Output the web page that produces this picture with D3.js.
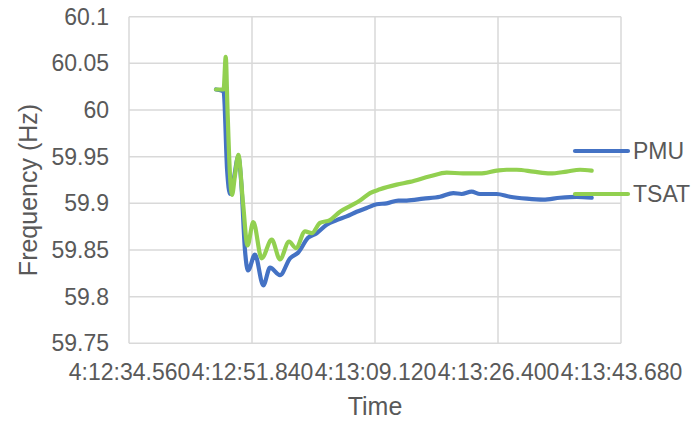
<!DOCTYPE html>
<html>
<head>
<meta charset="utf-8">
<script src="https://cdn.jsdelivr.net/npm/d3@7"></script>
<style>
  html, body { margin: 0; padding: 0; background: #fff; }
  svg { display: block; }
  text { font-family: "Liberation Sans", Arial, sans-serif; fill: #595959; }
</style>
</head>
<body>
<svg id="chart" width="697" height="421"></svg>
<script>
// Time in seconds after 4:12:00, frequency in Hz
const pmuTime = [46.78, 47.85, 48.35, 48.75, 49.25, 49.92, 50.35, 50.85, 51.28, 52.26, 53.43,
  54.37, 55.77, 57.18, 58.30, 59.71, 60.93, 62.33, 63.74, 65.14, 66.55, 67.95, 69.36,
  70.76, 72.39, 73.57, 75.91, 78.25, 80.12, 81.30, 82.70, 83.87, 86.22, 88.09, 90.43,
  92.76, 95.11, 97.46, 99.56];
const pmuFreq = [60.022, 60.020, 59.935, 59.910, 59.925, 59.950, 59.920, 59.850, 59.828, 59.845, 59.812,
  59.831, 59.823, 59.841, 59.847, 59.863, 59.868, 59.877, 59.882, 59.886, 59.891, 59.895, 59.899,
  59.900, 59.903, 59.903, 59.905, 59.907, 59.911, 59.910, 59.9125, 59.910, 59.910, 59.907, 59.905,
  59.904, 59.906, 59.907, 59.906];

const tsatTime = [46.78, 47.85, 48.15, 48.40, 48.75, 49.03, 49.45, 49.92, 50.58, 51.21, 52.02,
  53.20, 54.61, 55.77, 57.04, 58.02, 59.29, 60.23, 61.39, 62.80, 64.20, 65.61, 67.01,
  68.42, 69.82, 72.17, 74.04, 76.85, 79.19, 81.48, 83.87, 86.22, 87.62, 89.03, 91.36,
  93.71, 96.05, 97.92, 99.56];
const tsatFreq = [60.022, 60.022, 60.057, 60.000, 59.930, 59.909, 59.930, 59.952, 59.900, 59.855, 59.880,
  59.841, 59.861, 59.840, 59.859, 59.852, 59.870, 59.868, 59.879, 59.882, 59.891, 59.897, 59.903,
  59.911, 59.915, 59.920, 59.923, 59.929, 59.933, 59.932, 59.932, 59.935, 59.936, 59.936, 59.934,
  59.932, 59.934, 59.936, 59.935];

const timeTicks = [34.56, 51.84, 69.12, 86.40, 103.68];
const timeTickLabels = ["4:12:34.560", "4:12:51.840", "4:13:09.120", "4:13:26.400", "4:13:43.680"];
const freqTicks = [59.75, 59.8, 59.85, 59.9, 59.95, 60, 60.05, 60.1];
const freqTickLabels = ["59.75", "59.8", "59.85", "59.9", "59.95", "60", "60.05", "60.1"];

const seriesNames = ["PMU", "TSAT"];
const seriesColors = ["#4472C4", "#92D050"];

const svg = d3.select("#chart");
const plot = { left: 129, right: 621, top: 16.7, bottom: 343.3 };

const x = d3.scaleLinear().domain([34.56, 103.68]).range([plot.left, plot.right]);
const y = d3.scaleLinear().domain([59.75, 60.1]).range([plot.bottom, plot.top]);

// Gridlines
const grid = svg.append("g").attr("stroke", "#d9d9d9").attr("stroke-width", 1.5);
grid.selectAll("line.h").data(freqTicks).join("line")
  .attr("x1", plot.left).attr("x2", plot.right)
  .attr("y1", d => y(d)).attr("y2", d => y(d));
grid.selectAll("line.v").data(timeTicks).join("line")
  .attr("y1", plot.top).attr("y2", plot.bottom)
  .attr("x1", d => x(d)).attr("x2", d => x(d));

// Y axis tick labels
const yAxis = d3.axisLeft(y).tickValues(freqTicks)
  .tickFormat((d, i) => freqTickLabels[i]).tickSize(0).tickPadding(20);
const gy = svg.append("g").attr("transform", `translate(${plot.left},0)`).call(yAxis);
gy.select(".domain").remove();
gy.selectAll("text").style("font-size", "23px").attr("fill", "#595959")
  .attr("font-family", "Liberation Sans, Arial, sans-serif");

// X axis tick labels
const xAxis = d3.axisBottom(x).tickValues(timeTicks)
  .tickFormat((d, i) => timeTickLabels[i]).tickSize(0).tickPadding(20);
const gx = svg.append("g").attr("transform", `translate(0,${plot.bottom})`).call(xAxis);
gx.select(".domain").remove();
gx.selectAll("text").style("font-size", "23px").attr("fill", "#595959")
  .attr("font-family", "Liberation Sans, Arial, sans-serif");

// Axis titles
svg.append("text").attr("x", 375).attr("y", 415).attr("text-anchor", "middle")
  .style("font-size", "25px").text("Time");
svg.append("text").attr("transform", "translate(37,190) rotate(-90)")
  .attr("text-anchor", "middle").style("font-size", "25px").text("Frequency (Hz)");

// Series lines
const line = d3.line().x(d => x(d[0])).y(d => y(d[1])).curve(d3.curveMonotoneX);
const series = [
  d3.zip(pmuTime, pmuFreq),
  d3.zip(tsatTime, tsatFreq)
];
series.forEach((pts, i) => {
  svg.append("path").datum(pts)
    .attr("fill", "none").attr("stroke", seriesColors[i])
    .attr("stroke-width", 4.2).attr("stroke-linejoin", "round").attr("stroke-linecap", "round")
    .attr("d", line);
});

// Legend
const legend = svg.append("g");
const legendY = [151, 194];
seriesNames.forEach((name, i) => {
  legend.append("line").attr("x1", 575).attr("x2", 628)
    .attr("y1", legendY[i]).attr("y2", legendY[i])
    .attr("stroke", seriesColors[i]).attr("stroke-width", 4.2).attr("stroke-linecap", "round");
  legend.append("text").attr("x", 633).attr("y", legendY[i]).attr("dy", "0.35em")
    .style("font-size", "23px").text(name);
});
</script>
</body>
</html>
